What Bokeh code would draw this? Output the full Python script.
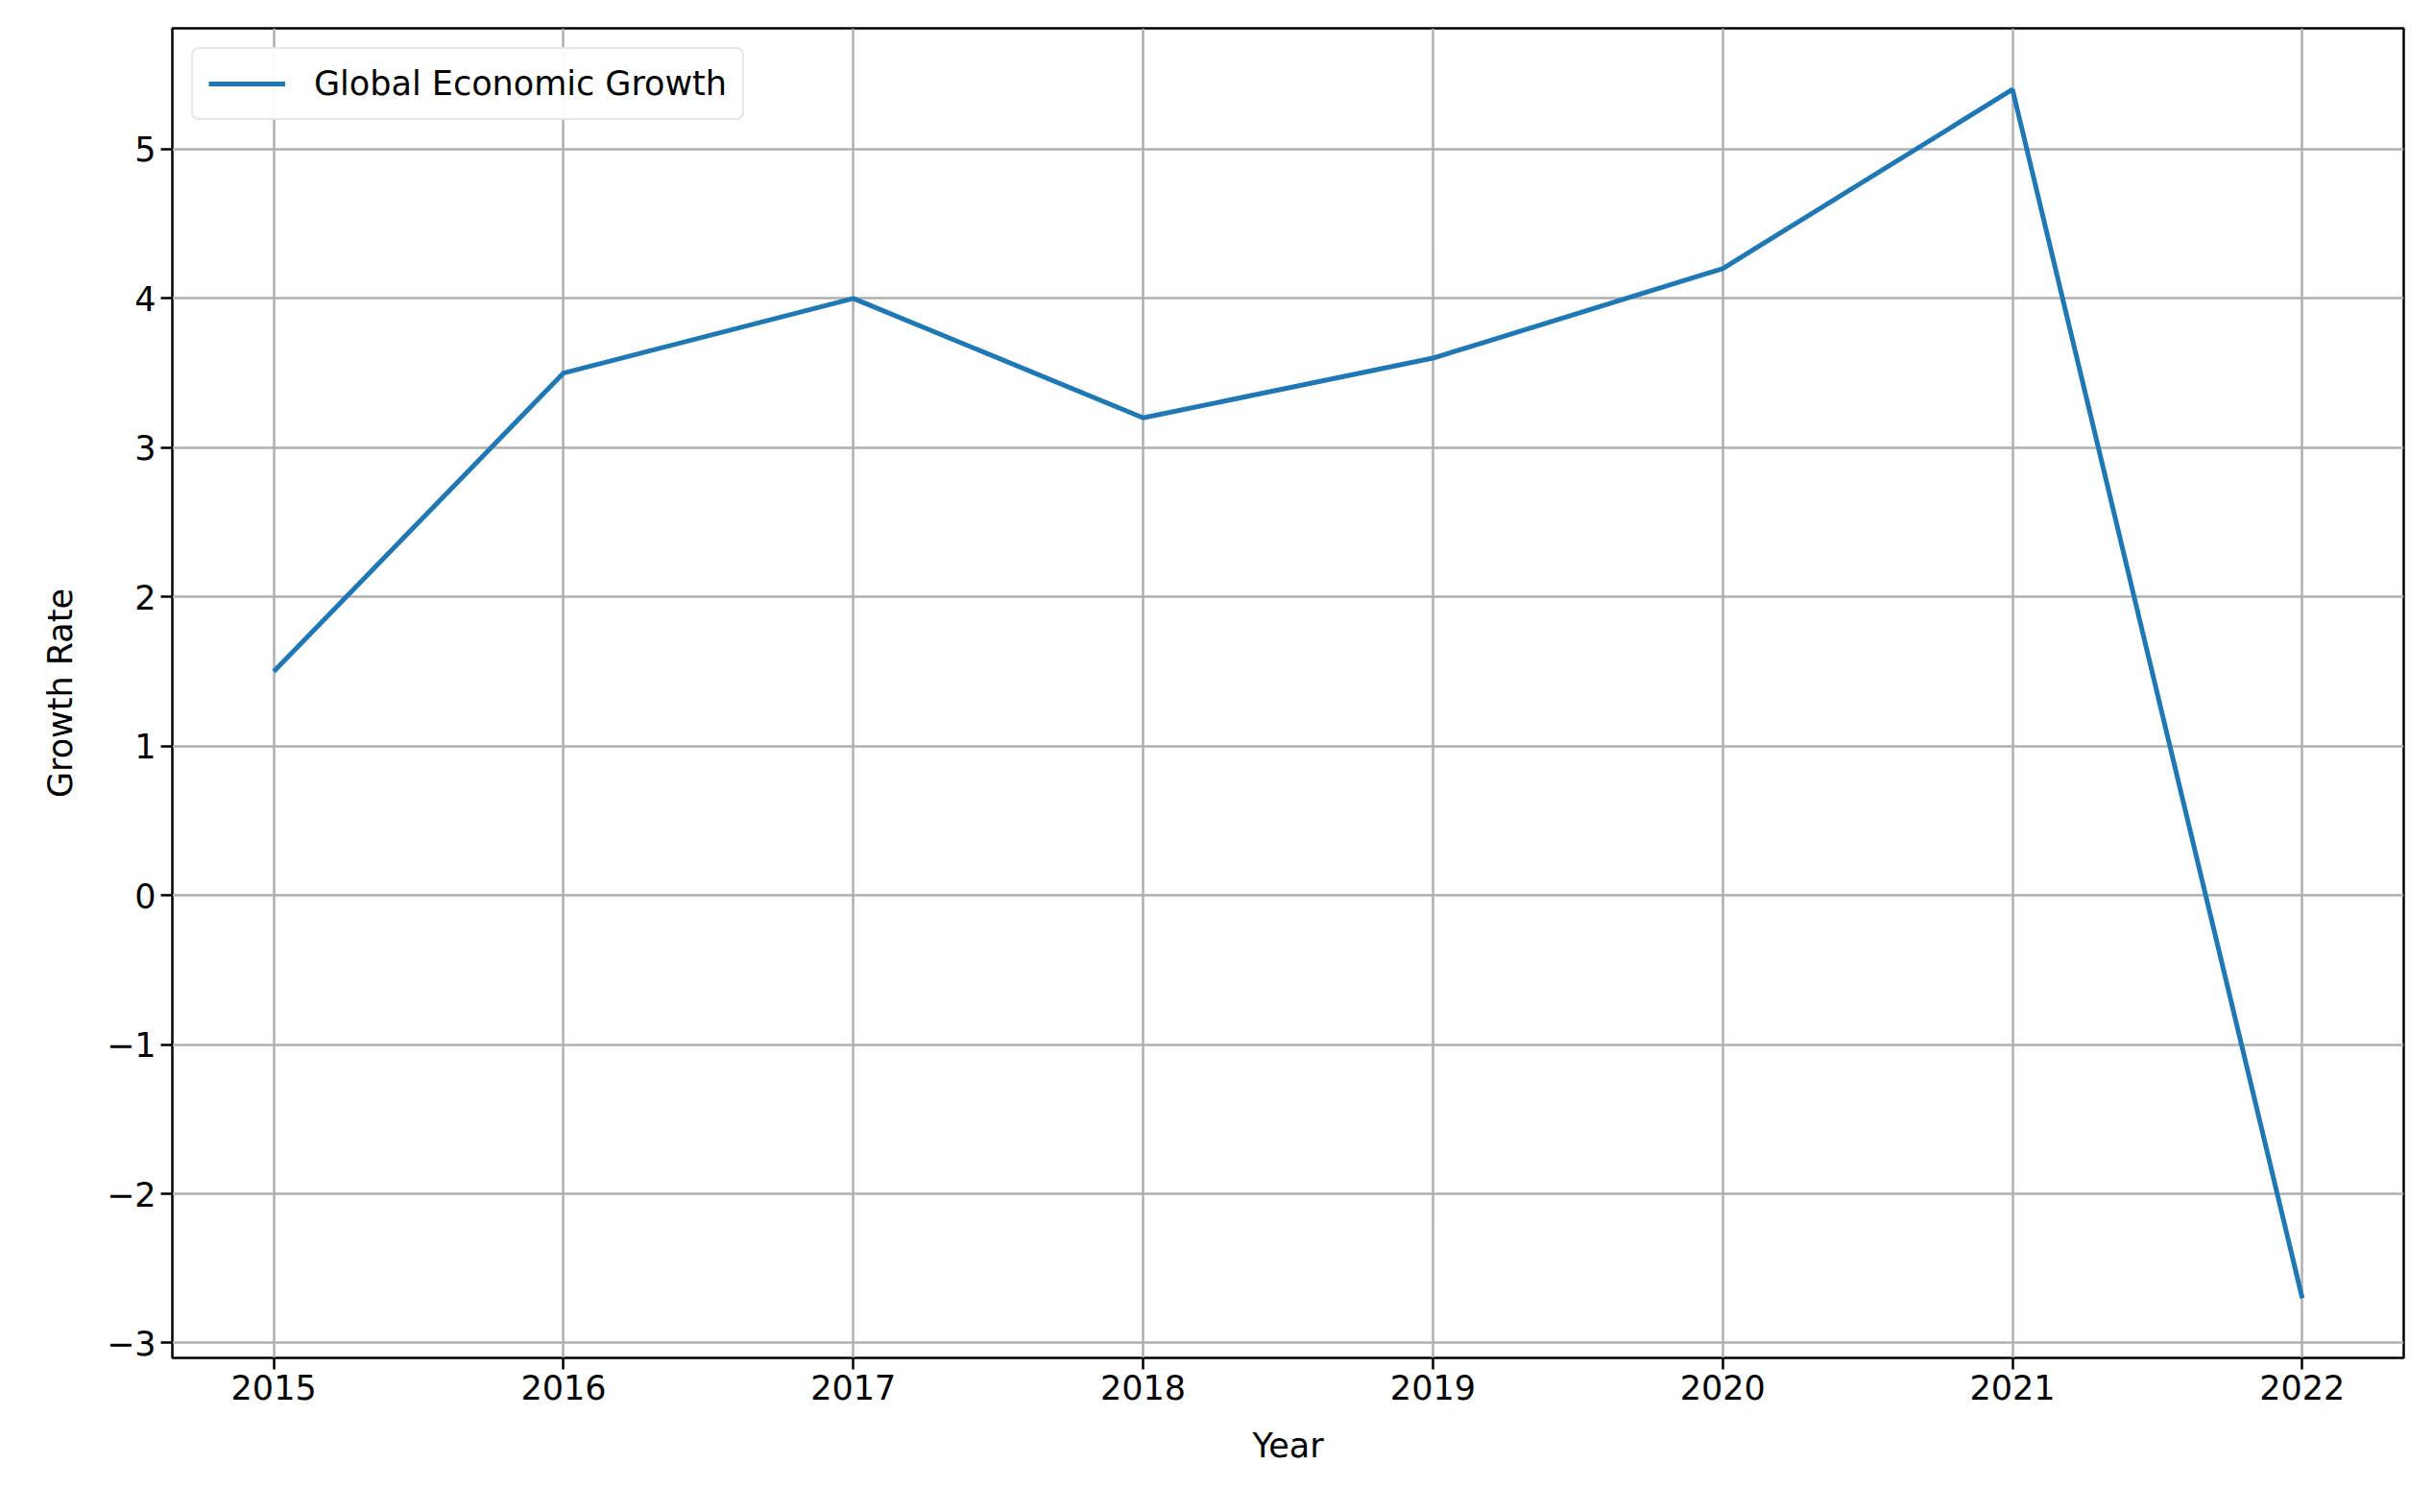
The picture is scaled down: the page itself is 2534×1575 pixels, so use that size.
from bokeh.plotting import figure
from bokeh.models import Range1d, FixedTicker, CustomJSTickFormatter, Legend
from bokeh.embed import file_html
from bokeh.resources import INLINE

years = [2015, 2016, 2017, 2018, 2019, 2020, 2021, 2022]
growth = [1.5, 3.5, 4.0, 3.2, 3.6, 4.2, 5.4, -2.7]
y_ticks = [-3, -2, -1, 0, 1, 2, 3, 4, 5]

p = figure(width=2518, height=1559, output_backend="svg", toolbar_location=None,
           x_range=Range1d(2014.65, 2022.35), y_range=Range1d(-3.10, 5.81),
           min_border_left=179, min_border_right=15, min_border_top=29, min_border_bottom=145)
p.outline_line_color = "black"
p.outline_line_width = 2.5

line = p.line(years, growth, line_color="#1f77b4", line_width=5)

font = "DejaVu Sans"
for ax in (p.xaxis[0], p.yaxis[0]):
    ax.major_label_text_font = font
    ax.major_label_text_font_size = "35px"
    ax.major_label_text_color = "black"
    ax.axis_label_text_font = font
    ax.axis_label_text_font_size = "35px"
    ax.axis_label_text_font_style = "normal"
    ax.axis_label_text_color = "black"
    ax.axis_label_standoff = 25
    ax.minor_tick_line_color = None
    ax.major_tick_out = 12
    ax.major_tick_in = 0
    ax.major_tick_line_width = 2.5
    ax.axis_line_color = None
p.xaxis.axis_label = "Year"
p.yaxis.axis_label = "Growth Rate"
p.xaxis.ticker = FixedTicker(ticks=years)
p.yaxis.ticker = FixedTicker(ticks=y_ticks)
p.yaxis.formatter = CustomJSTickFormatter(code="return tick < 0 ? '\\u2212' + Math.abs(tick) : '' + tick;")

p.grid.grid_line_color = "#b0b0b0"
p.grid.grid_line_width = 2.5

legend = Legend(items=[("Global Economic Growth", [line])], location="top_left")
legend.label_text_font = font
legend.label_text_font_size = "35px"
legend.label_text_color = "black"
legend.label_standoff = 30
legend.border_line_color = "#d0d0d0"
legend.border_line_width = 2.5
legend.border_radius = 8
legend.glyph_width = 80
legend.margin = 20
legend.padding = 16
p.add_layout(legend)

open("out.html", "w").write(file_html(p, INLINE))
